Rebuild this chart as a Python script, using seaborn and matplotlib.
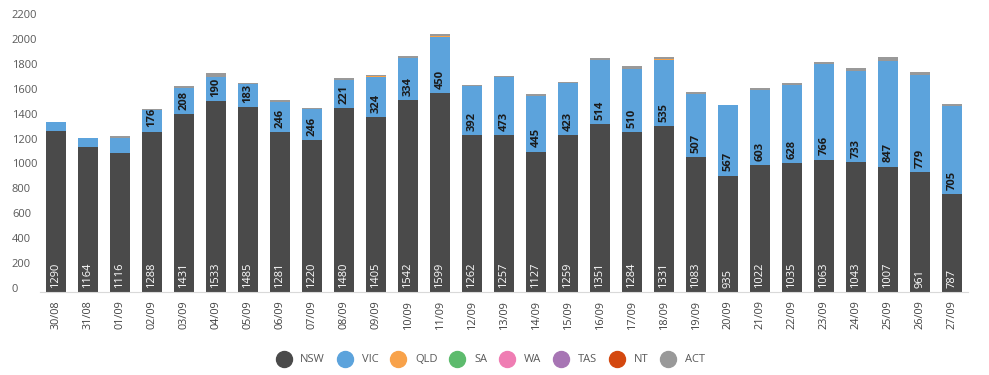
import matplotlib
matplotlib.use("Agg")
import matplotlib.pyplot as plt
from matplotlib.lines import Line2D
import numpy as np
import pandas as pd
import seaborn as sns

dates = ["30/08", "31/08", "01/09", "02/09", "03/09", "04/09", "05/09", "06/09", "07/09",
         "08/09", "09/09", "10/09", "11/09", "12/09", "13/09", "14/09", "15/09", "16/09",
         "17/09", "18/09", "19/09", "20/09", "21/09", "22/09", "23/09", "24/09", "25/09",
         "26/09", "27/09"]
nsw = [1290, 1164, 1116, 1288, 1431, 1533, 1485, 1281, 1220, 1480, 1405, 1542, 1599, 1262,
       1257, 1127, 1259, 1351, 1284, 1331, 1083, 935, 1022, 1035, 1063, 1043, 1007, 961, 787]
vic = [73, 76, 120, 176, 208, 190, 183, 246, 246, 221, 324, 334, 450, 392, 473, 445, 423,
       514, 510, 535, 507, 567, 603, 628, 766, 733, 847, 779, 705]
qld = [0, 0, 0, 0, 0, 0, 0, 0, 0, 0, 5, 0, 8, 0, 0, 0, 0, 0, 0, 6, 0, 0, 0, 0, 0, 0, 0, 0, 0]
sa = [0] * 29
wa = [0] * 29
tas = [0] * 29
nt = [0] * 29
act = [0, 0, 18, 5, 15, 32, 12, 15, 15, 16, 5, 21, 14, 10, 5, 20, 4, 15, 20, 12, 18, 3, 13,
       15, 15, 21, 32, 24, 15]

states = ["NSW", "VIC", "QLD", "SA", "WA", "TAS", "NT", "ACT"]
series = [nsw, vic, qld, sa, wa, tas, nt, act]
colors = ["#4a4a4a", "#5ca3dc", "#f8a24a", "#5dbb6d", "#ef7db3", "#a775b4", "#d4480f", "#999999"]

sns.set_style("white")
plt.rcParams["font.family"] = ["Open Sans", "DejaVu Sans"]

fig = plt.figure(figsize=(9.89, 3.75), dpi=100)
ax = fig.add_axes([0.0404, 0.2213, 0.9384, 0.7307])

# stack the states one on top of the other
bottom = np.zeros(len(dates))
for name, vals, col in zip(states, series, colors):
    df = pd.DataFrame({"date": dates, "cases": vals})
    sns.barplot(data=df, x="date", y="cases", color=col, width=0.6, bottom=bottom,
                saturation=1, ax=ax, linewidth=0)
    if name in ("NSW", "VIC"):
        tc = "white" if name == "NSW" else "#1a1a1a"
        fw = "normal" if name == "NSW" else "bold"
        for i, v in enumerate(vals):
            if v >= 150:
                ax.annotate(str(v), (i, bottom[i]), xytext=(0, 3), textcoords="offset points",
                            rotation=90, ha="center", va="bottom", color=tc,
                            fontsize=8, fontweight=fw)
    bottom = bottom + np.array(vals)

ax.set_xlim(-0.5, len(dates) - 0.5)
ax.set_ylim(0, 2200)
ax.set_yticks(range(0, 2201, 200))
ax.set_xlabel("")
ax.set_ylabel("")

for s in ["top", "right", "left"]:
    ax.spines[s].set_visible(False)
ax.spines["bottom"].set_color("#d9d9d9")

ax.tick_params(axis="y", length=0, pad=20.2, labelsize=8, labelcolor="#595959")
for lab in ax.get_yticklabels():
    lab.set_horizontalalignment("left")
    lab.set_verticalalignment("baseline")
ax.tick_params(axis="x", length=0, pad=6, labelsize=7.8, labelcolor="#404040", labelrotation=90)
ax.set_xticks(np.arange(len(dates) - 1) + 0.5, minor=True)
ax.tick_params(axis="x", which="minor", length=3, color="#e6e6e6")

handles = [Line2D([], [], marker="o", linestyle="", markersize=11.5,
                  markerfacecolor=c, markeredgecolor=c) for c in colors]
fig.legend(handles, states, loc="center", bbox_to_anchor=(0.494, 0.04), ncol=8,
           frameon=False, fontsize=8, labelcolor="#595959", handletextpad=0.5,
           columnspacing=0.8)

fig.savefig("out.png", dpi=100)
